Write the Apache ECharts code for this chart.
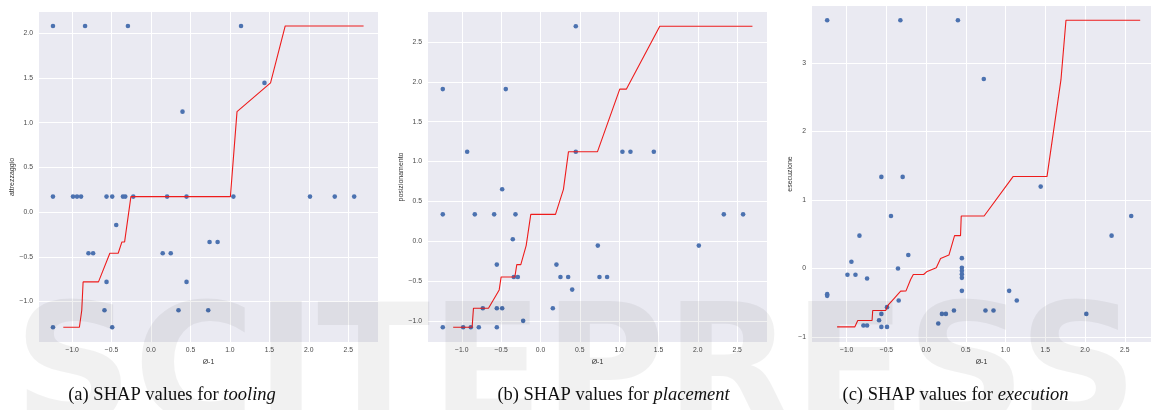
<!DOCTYPE html>
<html><head><meta charset="utf-8">
<script src="https://cdn.jsdelivr.net/npm/echarts@6/dist/echarts.min.js"></script>
<style>html,body{margin:0;padding:0;background:#fff}#c{width:1152px;height:410px}</style>
</head><body><div id="c"></div>
<script>
// ---------- Panel (a) tooling ----------
const aPtsX = [-1.243, -0.836, -0.293, 1.141, 1.438, 0.399,
  -1.243, -0.989, -0.938, -0.887, -0.564, -0.492, -0.356, -0.327, -0.225, 0.204, 0.450, 1.044, 2.015, 2.329, 2.575,
  -0.441, 0.742, 0.844, -0.793, -0.734, 0.148, 0.250, -0.564, 0.450, -0.590, 0.348, 0.725, -1.243, -0.492];
const aPtsY = [2.082, 2.082, 2.082, 2.082, 1.445, 1.124,
  0.174, 0.174, 0.174, 0.174, 0.174, 0.174, 0.174, 0.174, 0.174, 0.174, 0.174, 0.174, 0.174, 0.174, 0.174,
  -0.143, -0.333, -0.333, -0.46, -0.46, -0.46, -0.46, -0.78, -0.78, -1.097, -1.097, -1.097, -1.287, -1.287];
const aLineX = [-1.112, -0.908, -0.878, -0.861, -0.666, -0.522, -0.416, -0.369, -0.335, -0.255, 1.006, 1.090, 1.515, 1.701, 2.694];
const aLineY = [-1.287, -1.287, -1.097, -0.78, -0.78, -0.46, -0.46, -0.333, -0.333, 0.174, 0.174, 1.124, 1.445, 2.082, 2.082];

// ---------- Panel (b) placement ----------
const bPtsX = [0.449, -1.242, -0.441, -0.932, 0.449, 1.042, 1.144, 1.441, -0.487,
  -1.242, -0.835, -0.589, -0.318, 2.331, 2.576, -0.352, 0.729, 2.013, -0.555, 0.203,
  -0.339, -0.288, 0.254, 0.352, 0.750, 0.847, 0.403, -0.733, -0.555, -0.487, 0.157,
  -0.220, -1.242, -0.983, -0.886, -0.784, -0.555];
const bPtsY = [2.698, 1.909, 1.909, 1.124, 1.124, 1.124, 1.124, 1.124, 0.652,
  0.338, 0.338, 0.338, 0.338, 0.338, 0.338, 0.025, -0.054, -0.054, -0.292, -0.292,
  -0.447, -0.447, -0.447, -0.447, -0.447, -0.447, -0.606, -0.840, -0.840, -0.840, -0.840,
  -0.998, -1.078, -1.078, -1.078, -1.078, -1.078];
const bLineX = [-1.110, -0.869, -0.852, -0.661, -0.525, -0.500, -0.326, -0.301, -0.250, -0.182, -0.123, 0.191, 0.292, 0.356, 0.725, 1.008, 1.093, 1.517, 2.695];
const bLineY = [-1.078, -1.078, -0.840, -0.840, -0.610, -0.447, -0.447, -0.292, -0.292, -0.054, 0.338, 0.338, 0.652, 1.124, 1.124, 1.909, 1.909, 2.698, 2.698];

// ---------- Panel (c) execution ----------
const cPtsX = [-1.245, -0.324, 0.400, 0.726, -0.563, -0.295, 1.442, -0.442, 2.581, -0.839, 2.334,
  -0.224, 0.450, -0.940, -0.354, 0.450, 0.450, 0.450, 0.450, -0.990, -0.889, -0.743,
  -1.245, -1.245, 0.450, 1.045, -0.345, 1.141, -0.492, 0.350, 0.747, 0.848,
  -0.563, 0.199, 0.249, 2.016, -0.592, 0.153, -0.789, -0.743, -0.563, -0.492];
const cPtsY = [3.621, 3.621, 3.621, 2.763, 1.335, 1.335, 1.194, 0.765, 0.765, 0.478, 0.478,
  0.195, 0.150, 0.097, 0.000, 0.010, -0.035, -0.083, -0.137, -0.093, -0.093, -0.146,
  -0.375, -0.400, -0.327, -0.327, -0.468, -0.468, -0.565, -0.614, -0.614, -0.614,
  -0.663, -0.663, -0.663, -0.663, -0.755, -0.804, -0.833, -0.833, -0.853, -0.853];
const cLineX = [-1.120, -0.898, -0.860, -0.680, -0.672, -0.509, -0.479, -0.404, -0.354, -0.320, -0.253, -0.195, -0.161, -0.031, 0.006, 0.128, 0.182, 0.287, 0.358, 0.433, 0.442, 0.730, 1.094, 1.521, 1.697, 1.760, 2.694];
const cLineY = [-0.853, -0.853, -0.760, -0.760, -0.614, -0.614, -0.536, -0.439, -0.375, -0.331, -0.327, -0.161, -0.088, -0.088, -0.049, 0.010, 0.146, 0.195, 0.478, 0.478, 0.765, 0.765, 1.340, 1.340, 2.753, 3.621, 3.621];

const yNames = ['attrezzaggio', 'posizionamento', 'esecuzione'];
const xName = 'Ø-1';
const captions = [['(a) SHAP values for ', 'tooling'], ['(b) SHAP values for ', 'placement'], ['(c) SHAP values for ', 'execution']];
const watermark = 'SCITEPRESS';

const zip = (xs, ys) => xs.map((x, i) => [x, ys[i]]);
const fmt1 = v => {
  if (Math.abs(v * 2 - Math.round(v * 2)) > 1e-6) return '';
  return (v < 0 ? '\u2212' : '') + Math.abs(v).toFixed(1);
};
const fmt0 = v => {
  if (Math.abs(v - Math.round(v)) > 1e-6) return '';
  return (v < 0 ? '\u2212' : '') + Math.abs(Math.round(v));
};

const grids = [
  { left: 39, top: 12, width: 339, height: 330 },
  { left: 428, top: 12, width: 339, height: 330 },
  { left: 812, top: 6, width: 339, height: 336 }
];
const xr = [[-1.42, 2.877], [-1.43, 2.88], [-1.436, 2.83]];
const yr = [[-1.452, 2.238], [-1.263, 2.876], [-1.073, 3.828]];
const yStep = [0.5, 0.5, 1];

const labelStyle = { fontSize: 6.8, color: '#4a4a4a', fontFamily: 'Liberation Sans' };
const nameStyle = { fontSize: 7, color: '#333', fontFamily: 'Liberation Sans' };

const option = {
  animation: false,
  backgroundColor: '#fff',
  grid: grids.map(g => Object.assign({ show: true, backgroundColor: '#EAEAF2', borderWidth: 0, containLabel: false }, g)),
  xAxis: [0, 1, 2].map(i => ({
    type: 'value', gridIndex: i, min: xr[i][0], max: xr[i][1],
    splitNumber: 8, minInterval: 0.5, maxInterval: 0.5,
    axisLine: { show: false }, axisTick: { show: false },
    splitLine: { show: true, showMinLine: false, showMaxLine: false, lineStyle: { color: '#fff', width: 1 } },
    axisLabel: Object.assign({ showMinLabel: false, showMaxLabel: false, margin: 5, formatter: fmt1 }, labelStyle),
    name: xName, nameLocation: 'middle', nameGap: 12, nameTextStyle: nameStyle
  })),
  yAxis: [0, 1, 2].map(i => ({
    type: 'value', gridIndex: i, min: yr[i][0], max: yr[i][1],
    splitNumber: 7, minInterval: yStep[i], maxInterval: yStep[i],
    axisLine: { show: false }, axisTick: { show: false },
    splitLine: { show: true, showMinLine: false, showMaxLine: false, lineStyle: { color: '#fff', width: 1 } },
    axisLabel: Object.assign({ showMinLabel: false, showMaxLabel: false, margin: 6, formatter: yStep[i] === 1 ? fmt0 : fmt1 }, labelStyle),
    name: yNames[i], nameLocation: 'middle', nameGap: i === 2 ? 18 : 22, nameTextStyle: nameStyle
  })),
  series: [
    [aPtsX, aPtsY, aLineX, aLineY], [bPtsX, bPtsY, bLineX, bLineY], [cPtsX, cPtsY, cLineX, cLineY]
  ].flatMap((d, i) => [
    { type: 'scatter', xAxisIndex: i, yAxisIndex: i, data: zip(d[0], d[1]), symbolSize: 4.6,
      itemStyle: { color: '#4C72B0', opacity: 1 }, z: 3 },
    { type: 'line', xAxisIndex: i, yAxisIndex: i, data: zip(d[2], d[3]), showSymbol: false, symbol: 'none',
      lineStyle: { color: '#EE1C1C', width: 1.1 }, z: 4 }
  ]),
  graphic: [
    ...[172, 613.5, 955.5].map((cx, i) => ({
      type: 'text', x: cx, y: 395, silent: true,
      style: {
        text: '{r|' + captions[i][0] + '}{it|' + captions[i][1] + '}',
        align: 'center', verticalAlign: 'middle',
        rich: {
          r: { fontFamily: 'Liberation Serif', fontSize: 18.5, fill: '#111' },
          it: { fontFamily: 'Liberation Serif', fontSize: 18.5, fontStyle: 'italic', fill: '#111' }
        }
      }
    })),
    { type: 'text', x: 576, y: 296, silent: true, z: 100,
      style: { text: watermark, align: 'center', verticalAlign: 'top',
        font: 'bold 166px "DejaVu Sans"', fill: 'rgba(0,0,0,0.055)' } }
  ]
};
const chart = echarts.init(document.getElementById('c'), null, { renderer: 'canvas' });
chart.setOption(option);
</script></body></html>
